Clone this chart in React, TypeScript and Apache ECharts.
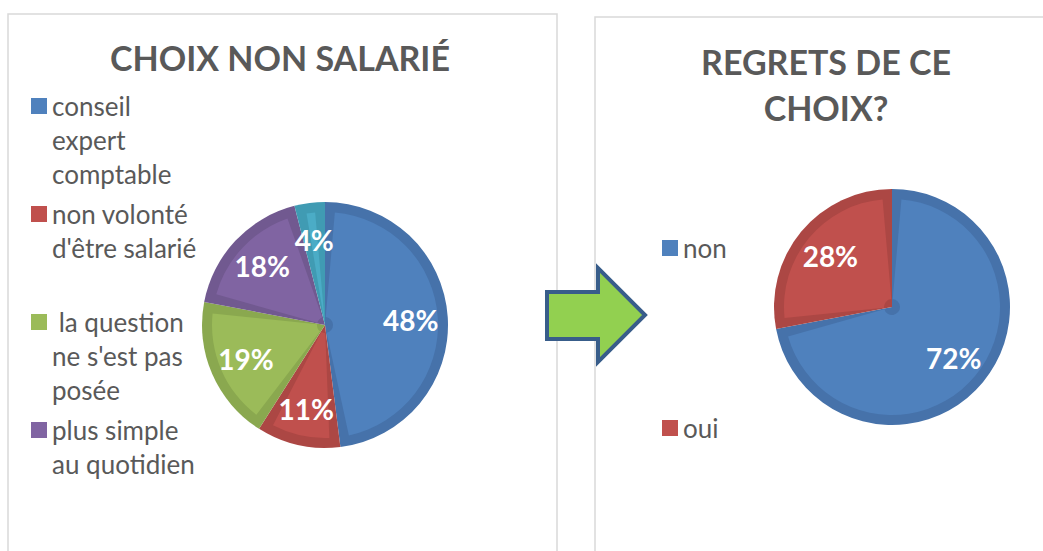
import React, { useEffect, useRef } from "react";
import * as echarts from "echarts";

const leftCategories = [
  "conseil\nexpert\ncomptable",
  "non volonté\nd'être salarié",
  " la question\nne s'est pas\nposée",
  "plus simple\nau quotidien",
  "autre",
];
const leftValues = [48, 11, 19, 18, 4];
const leftLegend = leftCategories.slice(0, 4);
const leftLight = ["#4F81BD", "#C0504D", "#9BBB59", "#8064A2", "#4BACC6"];
const leftDark = ["#4672AA", "#AC4744", "#8AA84F", "#715990", "#409BB3"];

const rightCategories = ["non", "oui"];
const rightValues = [72, 28];
const rightLight = ["#4F81BD", "#C0504D"];
const rightDark = ["#4672AA", "#AC4744"];

const titleLeft = "CHOIX NON SALARIÉ";
const titleRight = "REGRETS DE CE\nCHOIX?";

const FONT = "Lato, 'Noto Sans', sans-serif";
const GREY = "#595959";
const LH = 34;

function legendText(name: string) {
  const n = name.split("\n").length;
  return "\n".repeat(n - 1) + name;
}

function pieSeries(
  names: string[],
  values: number[],
  colors: string[],
  center: number[],
  radius: any,
  z: number,
  extra: any = {}
) {
  return {
    type: "pie",
    center,
    radius,
    startAngle: 90,
    clockwise: true,
    z,
    silent: true,
    label: { show: false },
    labelLine: { show: false },
    emphasis: { disabled: true },
    data: names.map((n, i) => ({
      name: n,
      value: values[i],
      itemStyle: { color: colors[i], borderWidth: 0 },
    })),
    ...extra,
  };
}

function labelSeries(names: string[], values: number[], center: number[], radius: any) {
  return {
    type: "pie",
    center,
    radius,
    startAngle: 90,
    clockwise: true,
    z: 5,
    silent: true,
    emphasis: { disabled: true },
    itemStyle: { color: "rgba(0,0,0,0)", borderWidth: 0 },
    labelLine: { show: false },
    label: {
      show: true,
      position: "inside",
      formatter: (p: any) => Math.round(p.percent) + "%",
      color: "#FFFFFF",
      fontFamily: FONT,
      fontWeight: "bold",
      fontSize: 28,
    },
    data: names.map((n, i) => ({ name: n, value: values[i] })),
  };
}

export default function App() {
  const ref = useRef<HTMLDivElement>(null);
  useEffect(() => {
    if (!ref.current) return;
    const chart = echarts.init(ref.current, null, { renderer: "svg" });
    const lc = [325, 325];
    const rc = [892, 307];
    chart.setOption({
      animation: false,
      backgroundColor: "#FFFFFF",
      legend: [
        {
          orient: "vertical",
          left: 31,
          top: 21,
          padding: 0,
          itemWidth: 16,
          itemHeight: 16,
          itemGap: -28,
          icon: "rect",
          selectedMode: false,
          data: leftLegend,
          formatter: legendText,
          textStyle: { fontFamily: FONT, fontSize: 26, color: GREY, lineHeight: LH },
        },
        {
          orient: "vertical",
          left: 662,
          top: 231,
          padding: 0,
          itemWidth: 16,
          itemHeight: 16,
          itemGap: 146,
          icon: "rect",
          selectedMode: false,
          data: rightCategories,
          textStyle: { fontFamily: FONT, fontSize: 26, color: GREY, lineHeight: LH },
        },
      ],
      graphic: [
        {
          type: "rect",
          shape: { x: 8, y: 14, width: 549, height: 560 },
          style: { fill: "none", stroke: "#D9D9D9", lineWidth: 1.5 },
          z: 0,
        },
        {
          type: "rect",
          shape: { x: 595, y: 17, width: 500, height: 560 },
          style: { fill: "none", stroke: "#D9D9D9", lineWidth: 1.5 },
          z: 0,
        },
        {
          type: "polygon",
          shape: {
            points: [
              [547, 292],
              [598, 292],
              [598, 268],
              [645, 315],
              [598, 362],
              [598, 339],
              [547, 339],
            ],
          },
          style: { fill: "#92D050", stroke: "#385D8A", lineWidth: 4, lineJoin: "miter" },
          z: 10,
        },
        {
          type: "text",
          x: 280,
          y: 57,
          style: {
            text: titleLeft,
            align: "center",
            verticalAlign: "middle",
            fill: GREY,
            font: `bold 34px ${FONT}`,
          },
        },
        {
          type: "text",
          x: 826,
          y: 84,
          style: {
            text: titleRight,
            align: "center",
            verticalAlign: "middle",
            fill: GREY,
            font: `bold 34px ${FONT}`,
            lineHeight: 46,
          },
        },
      ],
      series: [
        pieSeries(leftCategories, leftValues, leftLight, lc, [8, 113], 3, { padAngle: 10 }),
        pieSeries(leftCategories, leftValues, leftDark, lc, [0, 123], 2),
        labelSeries(leftCategories, leftValues, lc, [43, 123]),
        pieSeries(rightCategories, rightValues, rightLight, rc, [8, 108], 3, { padAngle: 10 }),
        pieSeries(rightCategories, rightValues, rightDark, rc, [0, 118], 2),
        labelSeries(rightCategories, rightValues, rc, [36, 118]),
      ],
    });
    return () => chart.dispose();
  }, []);
  return (
    <div
      ref={ref}
      style={{ position: "fixed", left: 0, top: 0, width: 1043, height: 551, background: "#fff" }}
    />
  );
}
